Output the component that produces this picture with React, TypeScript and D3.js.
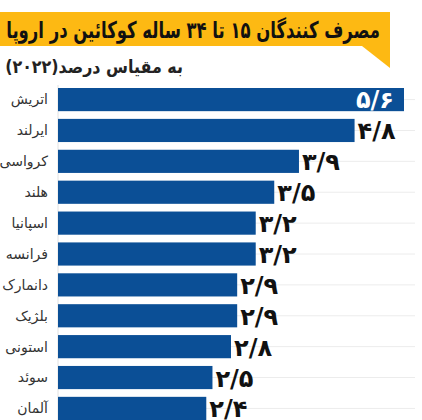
import React, { useLayoutEffect, useRef, useState } from "react";
import * as d3 from "d3";

const countries = ["اتریش", "ایرلند", "کرواسی", "هلند", "اسپانیا", "فرانسه", "دانمارک", "بلژیک", "استونی", "سوئد", "آلمان"];
const values = [5.6, 4.8, 3.9, 3.5, 3.2, 3.2, 2.9, 2.9, 2.8, 2.5, 2.4];
const title = "مصرف کنندگان ۱۵ تا ۳۴ ساله کوکائین در اروپا";
const subtitle = "به مقیاس درصد(۲۰۲۲)";

const W = 422, H = 420;
const faDigits = "۰۱۲۳۴۵۶۷۸۹";
const fmt = (v: number) => v.toFixed(1).replace(/\d/g, (d) => faDigits[+d]).replace(".", "/");

function FitText({ x, y, width, size, fill, children }: any) {
  const ref = useRef<SVGTextElement>(null);
  const [sx, setSx] = useState(1);
  useLayoutEffect(() => {
    if (ref.current) {
      const w = ref.current.getComputedTextLength();
      if (w > 0) setSx(width / w);
    }
  }, [width, children]);
  return (
    <g transform={`translate(${x},${y}) scale(${sx},1)`}>
      <text ref={ref} x={0} y={0} fontFamily="'DejaVu Sans', sans-serif" fontWeight="bold" fontSize={size} fill={fill} textAnchor="start" style={{ direction: "rtl" }}>{children}</text>
    </g>
  );
}

export default function App() {
  const x = d3.scaleLinear().domain([0, 5.6]).range([58, 404]);
  const y = d3.scaleBand<string>().domain(countries).range([88, 420]).paddingInner(0.25).paddingOuter(0);
  const bw = y.bandwidth();
  const font = "'DejaVu Sans', sans-serif";
  return (
    <svg width={W} height={H} style={{ position: "absolute", left: 0, top: 0, background: "#fff" }}>
      <rect x={0} y={12} width={390} height={34} fill="#FDB913" />
      <polygon points="362,46 390,46 390,68" fill="#FDB913" />
      <FitText x={380} y={38} width={374} size={23} fill="#111">{title}</FitText>
      <FitText x={183} y={73} width={178} size={18} fill="#222">{subtitle}</FitText>
      {countries.map((c) => (
        <line key={"g" + c} x1={58} x2={415} y1={(y(c) as number) + bw / 2} y2={(y(c) as number) + bw / 2} stroke="#ececec" strokeWidth={1} />
      ))}
      <line x1={58} x2={58} y1={85} y2={420} stroke="#e2e2e2" strokeWidth={1} />
      {countries.map((c, i) => (
        <g key={c}>
          <rect x={x(0)} y={y(c)} width={x(values[i]) - x(0)} height={bw} fill="#0B4F96" />
          <text x={48} y={(y(c) as number) + bw / 2} dy="0.35em" fontFamily={font} fontSize={14} fill="#333" textAnchor="end">{c}</text>
          {i === 0 ? (
            <text x={x(values[i]) - 10} y={(y(c) as number) + bw / 2 + 8} fontFamily={font} fontWeight="bold" fontSize={24} fill="#fff" textAnchor="end">{fmt(values[i])}</text>
          ) : (
            <text x={x(values[i]) + 3} y={(y(c) as number) + bw / 2 + 9} fontFamily={font} fontWeight="bold" fontSize={24} fill="#111" textAnchor="start">{fmt(values[i])}</text>
          )}
        </g>
      ))}
    </svg>
  );
}
